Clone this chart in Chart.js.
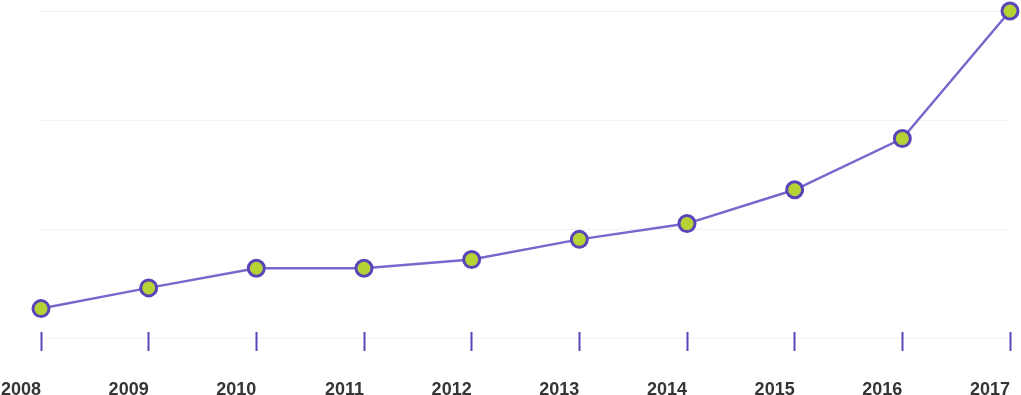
<!DOCTYPE html>
<html>
<head>
<meta charset="utf-8">
<script src="https://cdn.jsdelivr.net/npm/chart.js@4/dist/chart.umd.min.js"></script>
<style>
    html, body { margin: 0; padding: 0; background: #fff; }
    #wrap { width: 1021px; height: 395px; position: relative; }
</style>
</head>
<body>
<div id="wrap"><canvas id="growthChart"></canvas></div>
<script>
// Data
const years = ['2008', '2009', '2010', '2011', '2012', '2013', '2014', '2015', '2016', '2017'];
const values = [27, 46, 64, 64, 72, 90.5, 105, 136, 183, 300];
const yGridTicks = [0, 100, 200, 300];

const ctx = document.getElementById('growthChart');

new Chart(ctx, {
    type: 'line',
    data: {
        labels: years,
        datasets: [{
            data: values,
            borderColor: '#7b66cc',
            borderWidth: 2.5,
            pointBackgroundColor: '#b5d334',
            pointBorderColor: '#5a44b8',
            pointBorderWidth: 3,
            pointRadius: 8,
            pointHoverRadius: 8,
            tension: 0,
            clip: false
        }]
    },
    options: {
        responsive: true,
        maintainAspectRatio: false,
        animation: false,
        layout: { padding: { top: 10, left: 0, right: 0, bottom: 0 } },
        plugins: {
            legend: { display: false },
            tooltip: { enabled: false }
        },
        scales: {
            x: {
                grid: {
                    z: 1, // tick marks sit on top of the faint zero line
                    drawOnChartArea: false,
                    drawTicks: true,
                    tickLength: -19,
                    tickColor: '#5a44b8',
                    tickWidth: 2
                },
                border: { display: false },
                ticks: {
                    align: 'end',
                    maxRotation: 0,
                    autoSkip: false,
                    padding: 52,
                    color: '#353535',
                    font: { family: 'Liberation Sans', size: 18, weight: 'bold', lineHeight: '13px' }
                },
                afterFit: (scale) => {
                    // first label hangs left of the first tick; axis band is fixed
                    scale.paddingLeft = 41;
                    scale.paddingRight = 10;
                    scale.height = 44;
                }
            },
            y: {
                min: -11.9,
                max: 300,
                afterBuildTicks: (scale) => {
                    scale.ticks = yGridTicks.map(v => ({ value: v }));
                },
                grid: {
                    color: '#f2f2f2',
                    lineWidth: 1,
                    drawTicks: false
                },
                border: { display: false },
                ticks: { display: false }
            }
        }
    }
});
</script>
</body>
</html>
